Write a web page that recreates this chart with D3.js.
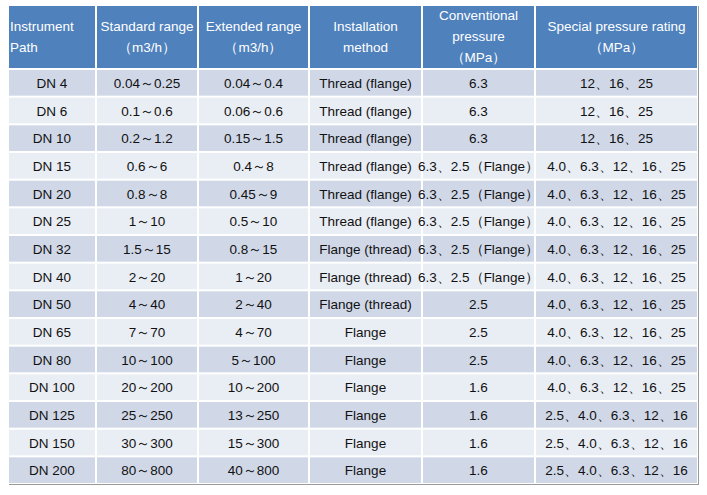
<!DOCTYPE html>
<html>
<head>
<meta charset="utf-8">
<script src="https://cdn.jsdelivr.net/npm/d3@7"></script>
<style>
  body { margin: 0; background: #fff; }
  svg { font-family: "Liberation Sans", Arial, sans-serif; }
</style>
</head>
<body>
<svg id="chart" width="707" height="495"></svg>
<script>
// Table columns.
const headers = [
  ['Instrument', 'Path'],
  ['Standard range', '（m3/h）'],
  ['Extended range', '（m3/h）'],
  ['Installation', 'method'],
  ['Conventional', 'pressure', '（MPa）'],
  ['Special pressure rating', '（MPa）']
];
const sizes = ['DN 4', 'DN 6', 'DN 10', 'DN 15', 'DN 20', 'DN 25', 'DN 32', 'DN 40',
  'DN 50', 'DN 65', 'DN 80', 'DN 100', 'DN 125', 'DN 150', 'DN 200'];
const standardRange = ['0.04～0.25', '0.1～0.6', '0.2～1.2', '0.6～6', '0.8～8', '1～10',
  '1.5～15', '2～20', '4～40', '7～70', '10～100', '20～200', '25～250', '30～300', '80～800'];
const extendedRange = ['0.04～0.4', '0.06～0.6', '0.15～1.5', '0.4～8', '0.45～9', '0.5～10',
  '0.8～15', '1～20', '2～40', '4～70', '5～100', '10～200', '13～250', '15～300', '40～800'];
const installation = ['Thread (flange)', 'Thread (flange)', 'Thread (flange)', 'Thread (flange)',
  'Thread (flange)', 'Thread (flange)', 'Flange (thread)', 'Flange (thread)', 'Flange (thread)',
  'Flange', 'Flange', 'Flange', 'Flange', 'Flange', 'Flange'];
const conventional = ['6.3', '6.3', '6.3', '6.3、2.5（Flange）', '6.3、2.5（Flange）',
  '6.3、2.5（Flange）', '6.3、2.5（Flange）', '6.3、2.5（Flange）', '2.5', '2.5', '2.5',
  '1.6', '1.6', '1.6', '1.6'];
const special = ['12、16、25', '12、16、25', '12、16、25',
  '4.0、6.3、12、16、25', '4.0、6.3、12、16、25', '4.0、6.3、12、16、25',
  '4.0、6.3、12、16、25', '4.0、6.3、12、16、25', '4.0、6.3、12、16、25',
  '4.0、6.3、12、16、25', '4.0、6.3、12、16、25', '4.0、6.3、12、16、25',
  '2.5、4.0、6.3、12、16', '2.5、4.0、6.3、12、16', '2.5、4.0、6.3、12、16'];

const columns = [sizes, standardRange, extendedRange, installation, conventional, special];
const colEdges = [8, 96, 198, 309, 422, 535, 698];

const svg = d3.select('#chart');

// faint shadow on right/bottom edges
svg.append('rect').attr('x', 9).attr('y', 6).attr('width', 690).attr('height', 479)
    .attr('fill', '#9a9a9a');

const rowY = d3.scaleBand().domain(d3.range(sizes.length)).range([69, 484]);

const cell = (x0, x1, y, h, fill) => svg.append('rect')
    .attr('x', x0 + 1).attr('y', y + 1)
    .attr('width', x1 - x0 - 2).attr('height', h - 2)
    .attr('fill', fill);

svg.append('rect').attr('x', 8).attr('y', 5).attr('width', 690).attr('height', 479).attr('fill', '#fff');

// header
headers.forEach((lines, c) => {
  const x0 = colEdges[c], x1 = colEdges[c + 1];
  cell(x0, x1, 5, 64, '#4f81bd');
  const t = svg.append('text')
      .attr('fill', '#fff').attr('font-size', 13.5)
      .attr('text-anchor', c === 0 ? 'start' : 'middle');
  const startY = lines.length === 3 ? 20 : 31;
  lines.forEach((s, i) => t.append('tspan')
      .attr('x', c === 0 ? x0 + 2 : (x0 + x1) / 2)
      .attr('y', startY + i * 21)
      .text(s));
});

// body rows
sizes.forEach((_, r) => {
  const y = rowY(r), h = rowY.bandwidth();
  columns.forEach((col, c) => {
    const x0 = colEdges[c], x1 = colEdges[c + 1];
    cell(x0, x1, y, h, r % 2 === 0 ? '#d0d8e8' : '#e9edf4');
    svg.append('text')
        .attr('x', (x0 + x1) / 2).attr('y', y + h / 2 + 5)
        .attr('text-anchor', 'middle').attr('font-size', 13.5)
        .attr('fill', '#111')
        .text(col[r]);
  });
});
</script>
</body>
</html>
